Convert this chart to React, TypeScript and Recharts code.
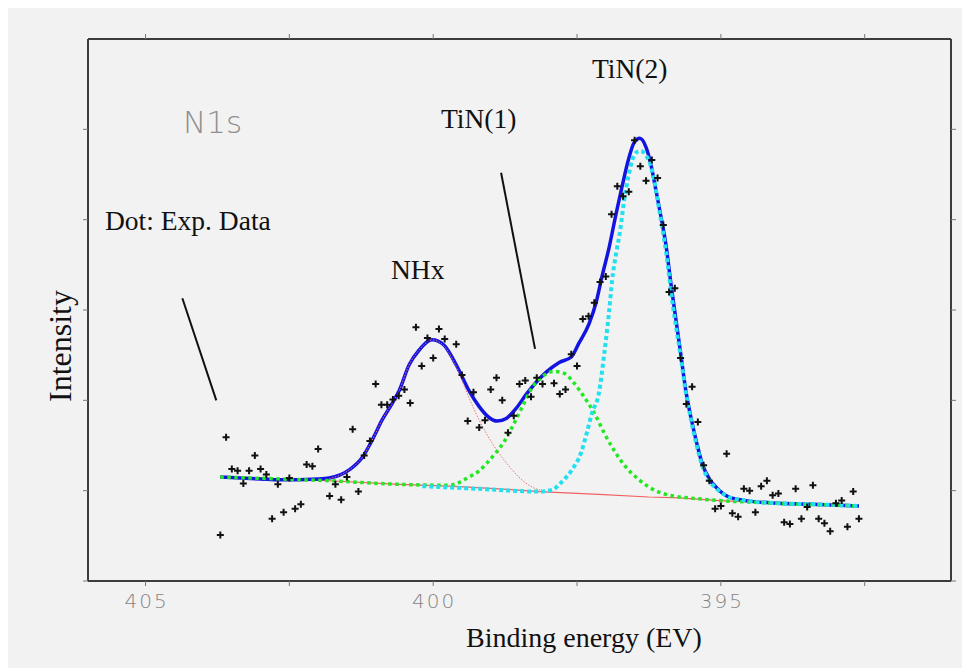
import { ComposedChart, Line, Scatter, XAxis, YAxis, ReferenceLine } from 'recharts';

// experimental N1s counts (dots)
const expEnergy = [
  403.7, 403.6, 403.5, 403.4, 403.3, 403.2, 403.1, 403.0, 402.9, 402.8, 402.7, 402.6, 402.5, 402.4, 402.3, 402.2,
  402.1, 402.0, 401.8, 401.7, 401.6, 401.5, 401.4, 401.3, 401.2, 401.1, 401.0, 400.9, 400.8, 400.7, 400.6, 400.5,
  400.4, 400.3, 400.2, 400.1, 400.0, 399.9, 399.8, 399.6, 399.5, 399.4, 399.3, 399.2, 399.1, 399.0, 398.9, 398.8,
  398.7, 398.6, 398.5, 398.4, 398.3, 398.2, 398.1, 397.9, 397.8, 397.7, 397.6, 397.5, 397.4, 397.3, 397.2, 397.1,
  397.0, 396.9, 396.8, 396.7, 396.6, 396.5, 396.4, 396.3, 396.2, 396.1, 396.0, 395.9, 395.8, 395.7, 395.6, 395.5,
  395.4, 395.3, 395.2, 395.1, 395.0, 394.9, 394.8, 394.7, 394.6, 394.5, 394.4, 394.3, 394.2, 394.1, 394.0, 393.9,
  393.8, 393.7, 393.6, 393.5, 393.4, 393.3, 393.2, 393.1, 393.0, 392.9, 392.8, 392.7, 392.6,
];
const expIntensity = [
  0.51, 1.59, 1.24, 1.22, 1.08, 1.22, 1.39, 1.24, 1.18, 0.69, 1.07, 0.76, 1.14, 0.8, 0.85, 1.29,
  1.27, 1.46, 0.94, 1.07, 0.9, 1.15, 1.68, 0.99, 1.39, 1.55, 2.18, 1.95, 1.95, 2.01, 2.05, 2.12,
  1.97, 2.81, 2.38, 2.69, 2.47, 2.79, 2.68, 2.62, 2.28, 1.77, 2.09, 1.7, 1.78, 2.12, 2.25, 2.0,
  1.64, 1.83, 2.18, 2.22, 2.04, 2.25, 2.18, 2.19, 2.07, 2.12, 2.51, 2.38, 2.9, 2.93, 3.08, 3.31,
  3.37, 4.06, 4.37, 4.26, 4.31, 4.88, 4.59, 4.43, 4.66, 4.46, 3.94, 3.2, 3.24, 2.47, 1.96, 2.15,
  1.76, 1.28, 1.11, 0.8, 0.83, 1.41, 0.75, 0.71, 1.02, 1.0, 0.76, 1.05, 1.11, 0.95, 0.97, 0.65,
  0.63, 1.02, 0.69, 0.82, 1.06, 0.69, 0.64, 0.55, 0.86, 0.89, 0.6, 0.99, 0.69,
];

// total fit (blue)
const fitEnergy = [
  403.7, 403.0, 402.67, 402.0, 401.81, 401.46, 401.23, 401.06, 400.89, 400.71, 400.59, 400.42, 400.24, 400.02,
  399.81, 399.72, 399.55, 399.38, 399.2, 399.03, 398.89, 398.73, 398.56, 398.39, 398.21, 398.04, 397.81, 397.6,
  397.47, 397.29, 397.17, 397.07, 396.94, 396.82, 396.72, 396.6, 396.51, 396.41, 396.3, 396.22, 396.13, 396.04,
  395.95, 395.87, 395.78, 395.69, 395.61, 395.52, 395.42, 395.33, 395.21, 395.07, 394.86, 394.57, 394.0, 393.42, 392.6,
];
const fitTotal = [
  1.15, 1.13, 1.12, 1.13, 1.14, 1.23, 1.37, 1.56, 1.78, 1.97, 2.11, 2.39, 2.56, 2.67,
  2.61, 2.53, 2.33, 2.11, 1.93, 1.81, 1.77, 1.8, 1.91, 2.06, 2.2, 2.31, 2.42, 2.48,
  2.63, 2.85, 3.08, 3.36, 3.7, 4.07, 4.36, 4.68, 4.85, 4.9, 4.8, 4.62, 4.33, 4.03,
  3.7, 3.3, 2.89, 2.48, 2.11, 1.81, 1.53, 1.31, 1.14, 1.03, 0.93, 0.89, 0.86, 0.85, 0.83,
];

// background (red line)
const bgEnergy = [403.7, 402.67, 401.81, 400.59, 399.72, 398.85, 398.16, 397.12, 396.25, 395.73, 395.03, 394.34, 393.65, 392.95, 392.6];
const bgIntensity = [1.15, 1.13, 1.11, 1.07, 1.05, 1.02, 0.99, 0.96, 0.93, 0.92, 0.89, 0.87, 0.85, 0.84, 0.83];

// NHx component + bg (red dashes)
const nhxEnergy = [
  401.81, 401.46, 401.23, 401.06, 400.89, 400.71, 400.59, 400.42, 400.24, 400.02,
  399.81, 399.72, 399.55, 399.43, 399.2, 398.98, 398.73, 398.51, 398.28, 398.11,
];
const nhxIntensity = [
  1.13, 1.23, 1.37, 1.56, 1.78, 1.97, 2.11, 2.39, 2.56, 2.67,
  2.6, 2.52, 2.3, 2.11, 1.78, 1.53, 1.31, 1.15, 1.04, 1.0,
];

// TiN(1) component + bg (green dots)
const tin1Energy = [
  403.7, 402.67, 401.81, 400.59, 399.72, 399.55, 399.38, 399.2, 399.06, 398.91, 398.77, 398.63, 398.45, 398.28,
  398.11, 397.9, 397.73, 397.55, 397.38, 397.2, 397.03, 396.86, 396.65, 396.42, 396.25, 395.9, 395.38, 395.03,
  394.34, 393.65, 392.95, 392.6,
];
const tin1Intensity = [
  1.15, 1.13, 1.11, 1.07, 1.06, 1.09, 1.15, 1.22, 1.31, 1.42, 1.54, 1.7, 1.93, 2.14,
  2.26, 2.32, 2.3, 2.19, 2.04, 1.86, 1.64, 1.45, 1.26, 1.12, 1.04, 0.95, 0.91, 0.89,
  0.87, 0.85, 0.84, 0.83,
];

// TiN(2) component + bg (cyan dots)
const tin2Energy = [
  400.19, 399.2, 398.16, 397.93, 397.76, 397.59, 397.43, 397.33, 397.24, 397.12, 397.03, 396.94, 396.89, 396.82,
  396.75, 396.68, 396.61, 396.54, 396.48, 396.39, 396.3, 396.23, 396.16, 396.08, 396.01, 395.95, 395.89, 395.83,
  395.78, 395.69, 395.61, 395.52, 395.42, 395.33, 395.21, 395.07, 394.86, 394.57, 394.0, 393.42, 392.6,
];
const tin2Intensity = [
  1.05, 1.02, 0.99, 1.01, 1.1, 1.23, 1.42, 1.64, 1.86, 2.08, 2.5, 3.0, 3.33, 3.63,
  3.88, 4.22, 4.47, 4.66, 4.74, 4.76, 4.71, 4.62, 4.44, 4.14, 3.88, 3.63, 3.33, 3.03,
  2.82, 2.45, 2.09, 1.79, 1.5, 1.29, 1.12, 1.02, 0.93, 0.89, 0.86, 0.85, 0.83,
];

const xTicks = [405, 402.5, 400, 397.5, 395, 392.5];
const yTicks = [0, 1, 2, 3, 4, 5];

const pts = (xs: number[], ys: number[]) => xs.map((x, i) => ({ x, y: ys[i] }));

const W = 961;
const H = 660;
const serif = '"Liberation Serif", "Times New Roman", serif';
const thinSans = '"DejaVu Sans", sans-serif';

function EnergyTick({ x, y, payload }: any) {
  if (payload.value % 5 !== 0) return <g />;
  return (
    <text x={x + 1} y={y + 20} textAnchor="middle" fontFamily={thinSans} fontWeight={200} fontSize={20} letterSpacing={2} fill="#858585">
      {payload.value}
    </text>
  );
}

function Cross({ cx, cy }: any) {
  return <path d={`M${cx - 3.5},${cy}h7M${cx},${cy - 3.5}v7`} stroke="#111" strokeWidth={2} />;
}

const axisLine = { stroke: '#3c3c3c', strokeWidth: 2 };
const tickLine = { stroke: '#777', strokeWidth: 1 };

export default function App() {
  return (
    <div style={{ position: 'relative', width: W, height: H, background: '#f2f2f2' }}>
      <ComposedChart width={W} height={H} margin={{ top: 30, right: 17, bottom: 37, left: 79 }}>
        <XAxis type="number" dataKey="x" domain={[391, 406]} reversed ticks={xTicks} interval={0}
          tick={<EnergyTick />} tickSize={5} tickLine={tickLine} axisLine={axisLine} height={50} allowDataOverflow />
        <XAxis xAxisId="top" orientation="top" type="number" dataKey="x" domain={[391, 406]} reversed ticks={xTicks}
          interval={0} tickFormatter={() => ''} tickSize={5} tickLine={tickLine} axisLine={axisLine} height={1} allowDataOverflow />
        <YAxis type="number" dataKey="y" domain={[0, 6]} ticks={yTicks} interval={0} tickFormatter={() => ''}
          tickSize={5} tickLine={tickLine} axisLine={axisLine} width={1} allowDataOverflow />
        <YAxis yAxisId="right" orientation="right" type="number" dataKey="y" domain={[0, 6]} ticks={yTicks} interval={0}
          tickFormatter={() => ''} tickSize={5} tickLine={tickLine} axisLine={axisLine} width={1} allowDataOverflow />

        {/* background is plotted on the top/right pair (same scales) so those axes have a series */}
        <Line xAxisId="top" yAxisId="right" data={pts(bgEnergy, bgIntensity)} dataKey="y" type="linear" dot={false}
          stroke="#f06060" strokeWidth={1.2} isAnimationActive={false} />
        <Line data={pts(fitEnergy, fitTotal)} dataKey="y" type="monotone" dot={false} stroke="#1414e0" strokeWidth={3.5} isAnimationActive={false} />
        <Line data={pts(nhxEnergy, nhxIntensity)} dataKey="y" type="monotone" dot={false} stroke="#f07070" strokeWidth={1} strokeDasharray="1.5 1.5" isAnimationActive={false} />
        <Line data={pts(tin1Energy, tin1Intensity)} dataKey="y" type="monotone" dot={false} stroke="#22e822" strokeWidth={3.5} strokeDasharray="3.5 3.5" isAnimationActive={false} />
        <Line data={pts(tin2Energy, tin2Intensity)} dataKey="y" type="monotone" dot={false} stroke="#22e0ee" strokeWidth={4} strokeDasharray="4 3" isAnimationActive={false} />
        <Scatter data={pts(expEnergy, expIntensity)} dataKey="y" shape={<Cross />} isAnimationActive={false} />

        <ReferenceLine segment={[{ x: 404.36, y: 3.13 }, { x: 403.77, y: 2.0 }]} stroke="#111" strokeWidth={2} />
        <ReferenceLine segment={[{ x: 398.82, y: 4.52 }, { x: 398.23, y: 2.57 }]} stroke="#111" strokeWidth={2} />
      </ComposedChart>

      <svg width={W} height={H} style={{ position: 'absolute', left: 0, top: 0, pointerEvents: 'none' }}>
        <text x={175} y={125} fontFamily={thinSans} fontWeight={200} fontSize={31} fill="#8f8f8f">N1s</text>
        <text x={97} y={222} fontFamily={serif} fontSize={27.5} fill="#111">Dot: Exp. Data</text>
        <text x={383} y={271} fontFamily={serif} fontSize={27.5} fill="#111">NHx</text>
        <text x={433} y={120} fontFamily={serif} fontSize={27.5} fill="#111">TiN(1)</text>
        <text x={584} y={70} fontFamily={serif} fontSize={27.5} fill="#111">TiN(2)</text>
        <text x={458} y={639} fontFamily={serif} fontSize={28} fill="#111">Binding energy (EV)</text>
        <text x={63} y={338} fontFamily={serif} fontSize={32} fill="#111" textAnchor="middle" transform="rotate(-90 63 338)">Intensity</text>
      </svg>
    </div>
  );
}
